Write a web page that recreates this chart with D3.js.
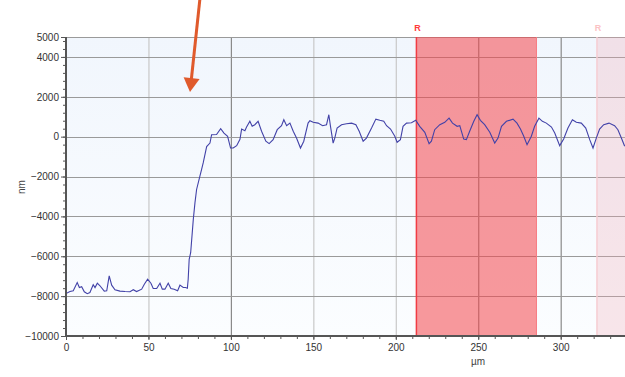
<!DOCTYPE html>
<html><head><meta charset="utf-8">
<script src="https://cdn.jsdelivr.net/npm/d3@7"></script>
<style>body{margin:0;background:#fff;}svg{display:block;font-family:"Liberation Sans",Arial,sans-serif;}</style>
</head><body>
<svg id="c" width="625" height="377"></svg>
<script>
// profile: x in µm, z in nm
const xs = [0,2.4,4.4,6.8,8.1,9.5,11.1,12.9,14.5,16.5,17.6,19.0,20.6,23.2,24.7,26.2,27.7,29.7,32.7,35.8,38.8,40.8,42.8,45.9,47.5,49.5,51.5,52.9,55.0,57.0,58.4,60.0,62.0,63.6,65.6,67.7,69.1,71.1,72.5,73.6,74.1,74.7,75.6,77.2,78.2,79.2,81.2,82.2,83.2,85.3,87.3,88.3,91.3,93.8,95.8,98.0,99.8,101.4,103.5,105.5,106.5,108.5,109.5,111.5,112.9,114.5,116.5,118.6,121.2,123.2,125.6,128.1,130.7,132.1,133.8,135.8,137.8,139.8,142.2,144.2,146.8,147.9,149.9,152.9,155.6,158.0,159.4,160.4,162.0,163.0,164.4,167.1,170.1,173.2,175.8,177.8,180.2,182.2,185.3,187.9,190.3,192.7,194.4,196.8,199.4,200.8,202.8,204.4,206.5,209.5,212.1,214.5,217.6,220.2,221.6,223.6,226.7,229.7,232.3,234.4,237.2,238.8,241.2,242.8,244.8,247.3,249.3,251.3,253.9,257.0,260.0,262.0,264.1,267.1,271.1,273.5,275.6,277.6,279.6,282.2,284.2,286.8,288.9,291.3,294.4,296.4,299.4,301.8,304.4,307.1,309.5,312.5,315.2,317.6,319.6,321.6,323.6,326.1,329.3,332.7,334.7,336.8,338.8];
const zs = [-7870,-7770,-7730,-7320,-7570,-7530,-7780,-7880,-7820,-7430,-7570,-7350,-7480,-7750,-7730,-6980,-7450,-7680,-7750,-7770,-7780,-7680,-7770,-7650,-7400,-7150,-7350,-7620,-7620,-7350,-7650,-7650,-7350,-7620,-7650,-7730,-7450,-7570,-7570,-7600,-7150,-6150,-5820,-4150,-3320,-2650,-1980,-1650,-1320,-500,-320,100,110,400,180,20,-570,-570,-450,-130,380,300,480,770,520,600,770,270,-230,-350,-150,350,550,850,550,680,270,-70,-570,-230,680,800,720,680,550,600,1100,520,-320,-70,430,600,650,680,600,270,-230,-70,430,880,820,770,550,380,20,-280,-150,520,680,700,820,520,220,-350,-230,350,600,720,930,680,520,550,-120,-150,270,770,1100,820,600,220,-320,-70,520,770,880,680,380,20,-400,20,520,930,770,680,480,180,-450,-120,430,850,720,680,430,-150,-570,-70,380,600,680,550,350,-70,-480];
const regionStart = [212.5, 322];
const regionEnd   = [285.3, 345];
const regionLabels = ["R", "R"];
const yMajorTicks = [5000,4000,2000,0,-2000,-4000,-6000,-8000,-10000];
const xMajorTicks = [0,50,100,150,200,250,300];

const svg = d3.select("#c");
const L=66, R=625, T=37, B=336;
const x = d3.scaleLinear().domain([0,339]).range([L,R]);
const y = d3.scaleLinear().domain([-10000,5000]).range([B,T]);

const defs = svg.append("defs");
const g = defs.append("linearGradient").attr("id","bg").attr("x1",0).attr("y1",0).attr("x2",0).attr("y2",1);
g.append("stop").attr("offset","0%").attr("stop-color","#f1f6fd");
g.append("stop").attr("offset","100%").attr("stop-color","#fbfdff");
defs.append("clipPath").attr("id","clip").append("rect").attr("x",L).attr("y",T).attr("width",R-L).attr("height",B-T);

svg.append("rect").attr("x",L).attr("y",T).attr("width",R-L).attr("height",B-T).attr("fill","url(#bg)");

// vertical grid
const darkV = new Set([100,250,300]);
svg.append("g").selectAll("line").data(xMajorTicks.filter(d=>d>0)).join("line")
  .attr("x1",d=>x(d)+0.5).attr("x2",d=>x(d)+0.5).attr("y1",T).attr("y2",B)
  .attr("stroke",d=>darkV.has(d)?"#8a8a8a":"#c8c8c8").attr("stroke-width",1.2);
// horizontal grid
svg.append("g").selectAll("line").data(yMajorTicks.filter(d=>d>-10000)).join("line")
  .attr("x1",L).attr("x2",R).attr("y1",d=>Math.round(y(d))+0.5).attr("y2",d=>Math.round(y(d))+0.5)
  .attr("stroke","#9a9a9a").attr("stroke-width",1);

// regions
const regions = regionStart.map((s,i)=>({s, e: regionEnd[i], lab: regionLabels[i], i}));
const rg = svg.append("g").attr("clip-path","url(#clip)");
rg.selectAll("rect").data(regions).join("rect")
  .attr("x",d=>x(d.s)).attr("y",T).attr("width",d=>x(d.e)-x(d.s)).attr("height",B-T)
  .attr("fill",d=>d.i===0?"rgba(244,70,74,0.55)":"rgba(240,170,178,0.28)");
rg.selectAll("line.l").data(regions).join("line").attr("class","l")
  .attr("x1",d=>x(d.s)).attr("x2",d=>x(d.s)).attr("y1",T).attr("y2",B)
  .attr("stroke",d=>d.i===0?"#f03c44":"#f6cdd2").attr("stroke-width",1.5);
rg.selectAll("line.r").data(regions.filter(d=>d.i===0)).join("line").attr("class","r")
  .attr("x1",d=>x(d.e)).attr("x2",d=>x(d.e)).attr("y1",T).attr("y2",B)
  .attr("stroke","#f77a80").attr("stroke-width",1);
svg.selectAll("text.rl").data(regions).join("text").attr("class","rl")
  .attr("x",d=>x(d.s)+1).attr("y",31).attr("text-anchor","middle")
  .attr("font-size",9).attr("font-weight","bold")
  .attr("fill",d=>d.i===0?"#ff3b3b":"#fbc2c4").text(d=>d.lab);

// line
const pts = xs.map((v,i)=>[v,zs[i]]);
svg.append("path").datum(pts).attr("clip-path","url(#clip)")
  .attr("d",d3.line().x(d=>x(d[0])).y(d=>y(d[1])))
  .attr("fill","none").attr("stroke","#4242a8").attr("stroke-width",1.1);

// axes
const yMinor = d3.range(-10000,5001,400);
const ya = svg.append("g").attr("transform",`translate(${L},0)`);
ya.call(d3.axisLeft(y).tickValues(yMinor).tickSize(3).tickFormat(""));
const yb = svg.append("g").attr("transform",`translate(${L},0)`)
  .call(d3.axisLeft(y).tickValues(yMajorTicks).tickSize(5).tickPadding(2).tickFormat(d3.format("d")));
[ya,yb].forEach(a=>{a.select(".domain").remove(); a.selectAll("line").attr("stroke","#555");});
yb.selectAll("text").attr("font-size",10).attr("fill","#333");
svg.append("line").attr("x1",L).attr("x2",L).attr("y1",T).attr("y2",B+1).attr("stroke","#555").attr("stroke-width",2);

const xMinor = d3.range(0,340,10);
const xa = svg.append("g").attr("transform",`translate(0,${B})`)
  .call(d3.axisBottom(x).tickValues(xMinor).tickSize(3).tickFormat(""));
const xb = svg.append("g").attr("transform",`translate(0,${B})`)
  .call(d3.axisBottom(x).tickValues(xMajorTicks).tickSize(4).tickPadding(4).tickFormat(d3.format("d")));
[xa,xb].forEach(a=>{a.select(".domain").remove(); a.selectAll("line").attr("stroke","#555");});
xb.selectAll("text").attr("font-size",10).attr("fill","#333");
svg.append("line").attr("x1",L-1).attr("x2",R).attr("y1",B).attr("y2",B).attr("stroke","#555").attr("stroke-width",2);

// axis titles
svg.append("text").attr("x",478).attr("y",365).attr("text-anchor","middle").attr("font-size",10).attr("fill","#444").text("µm");
svg.append("text").attr("transform","translate(25,187) rotate(-90)").attr("text-anchor","middle").attr("font-size",10).attr("fill","#444").text("nm");

// arrow annotation
svg.append("line").attr("x1",200).attr("y1",-2).attr("x2",191.3).attr("y2",80)
  .attr("stroke","#e05a2c").attr("stroke-width",3);
svg.append("path").attr("d","M190,92 L199.6,79 L183.6,77.2 Z").attr("fill","#e05a2c");
</script>
</body></html>
